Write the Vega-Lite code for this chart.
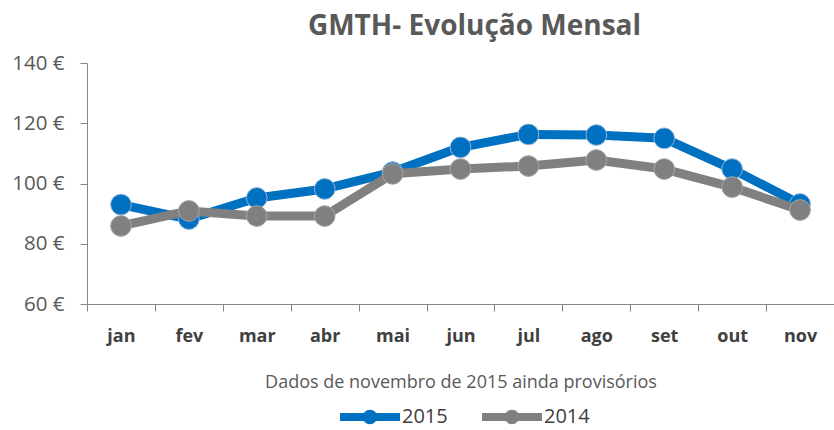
{
  "$schema": "https://vega.github.io/schema/vega-lite/v6.json",
  "width": 747,
  "height": 241,
  "autosize": {"type": "none"},
  "padding": {"left": 87, "top": 63, "right": 0, "bottom": 126},
  "background": "white",
  "title": {"text": "GMTH- Evolução Mensal", "font": "Open Sans", "fontSize": 28, "fontWeight": "bold", "color": "#595959", "anchor": "middle", "offset": 12, "dx": 14},
  "config": {"view": {"stroke": null}, "font": "Open Sans"},
  "data": {"values": [
    {"mes": "jan", "ano": "2015", "valor": 93},
    {"mes": "fev", "ano": "2015", "valor": 88.2},
    {"mes": "mar", "ano": "2015", "valor": 95.2},
    {"mes": "abr", "ano": "2015", "valor": 98.2},
    {"mes": "mai", "ano": "2015", "valor": 103.8},
    {"mes": "jun", "ano": "2015", "valor": 112},
    {"mes": "jul", "ano": "2015", "valor": 116.3},
    {"mes": "ago", "ano": "2015", "valor": 116.1},
    {"mes": "set", "ano": "2015", "valor": 115},
    {"mes": "out", "ano": "2015", "valor": 104.8},
    {"mes": "nov", "ano": "2015", "valor": 93.2},
    {"mes": "jan", "ano": "2014", "valor": 85.9},
    {"mes": "fev", "ano": "2014", "valor": 90.9},
    {"mes": "mar", "ano": "2014", "valor": 89.2},
    {"mes": "abr", "ano": "2014", "valor": 89.2},
    {"mes": "mai", "ano": "2014", "valor": 103.2},
    {"mes": "jun", "ano": "2014", "valor": 104.8},
    {"mes": "jul", "ano": "2014", "valor": 105.8},
    {"mes": "ago", "ano": "2014", "valor": 107.8},
    {"mes": "set", "ano": "2014", "valor": 104.8},
    {"mes": "out", "ano": "2014", "valor": 98.8},
    {"mes": "nov", "ano": "2014", "valor": 91.2}
  ]},
  "encoding": {
    "x": {
      "field": "mes", "type": "ordinal",
      "sort": ["jan", "fev", "mar", "abr", "mai", "jun", "jul", "ago", "set", "out", "nov"],
      "scale": {"type": "band", "paddingInner": 0, "paddingOuter": 0},
      "axis": {
        "tickBand": "extent", "tickSize": 7, "tickColor": "#868686", "domainColor": "#868686",
        "labelAngle": 0, "labelFontSize": 18, "labelFontWeight": "bold", "labelColor": "#404040", "labelPadding": 16,
        "title": "Dados de novembro de 2015 ainda provisórios", "titleFontSize": 18, "titleFontWeight": "normal",
        "titleColor": "#595959", "titlePadding": 28, "grid": false
      }
    },
    "y": {
      "field": "valor", "type": "quantitative",
      "scale": {"domain": [60, 140], "nice": false, "zero": false},
      "axis": {
        "values": [60, 80, 100, 120, 140], "labelExpr": "datum.value + ' €'", "labelFontSize": 20.5,
        "labelColor": "#595959", "tickSize": 7, "labelPadding": 16, "tickColor": "#868686",
        "domainColor": "#868686", "title": null, "grid": false
      }
    },
    "color": {
      "field": "ano", "type": "nominal",
      "scale": {"domain": ["2015", "2014"], "range": ["#0070C0", "#808080"]},
      "legend": {
        "orient": "none", "legendX": 253, "legendY": 324, "direction": "horizontal", "title": null,
        "symbolType": "M-1,-0.13L1,-0.13L1,0.13L-1,0.13Z M-0.24,0A0.24,0.24 0 1,1 0.24,0A0.24,0.24 0 1,1 -0.24,0Z",
        "symbolSize": 3600, "symbolStrokeWidth": 0, "labelFontSize": 20, "labelColor": "#404040",
        "labelOffset": 2, "columnPadding": 34, "padding": 0,
        "encode": {"symbols": {"update": {"fill": {"scale": "color", "field": "value"}, "opacity": {"value": 1}, "strokeWidth": {"value": 0}}}}
      }
    }
  },
  "layer": [
    {"transform": [{"filter": "datum.ano == '2015'"}], "mark": {"type": "line", "strokeWidth": 9, "strokeJoin": "round"}},
    {"transform": [{"filter": "datum.ano == '2015'"}], "mark": {"type": "point", "shape": "circle", "filled": true, "size": 430, "opacity": 1, "stroke": "#8FB3DC", "strokeWidth": 1}},
    {"transform": [{"filter": "datum.ano == '2014'"}], "mark": {"type": "line", "strokeWidth": 9, "strokeJoin": "round"}},
    {"transform": [{"filter": "datum.ano == '2014'"}], "mark": {"type": "point", "shape": "circle", "filled": true, "size": 430, "opacity": 1, "stroke": "#A6A6A6", "strokeWidth": 1}}
  ]
}
